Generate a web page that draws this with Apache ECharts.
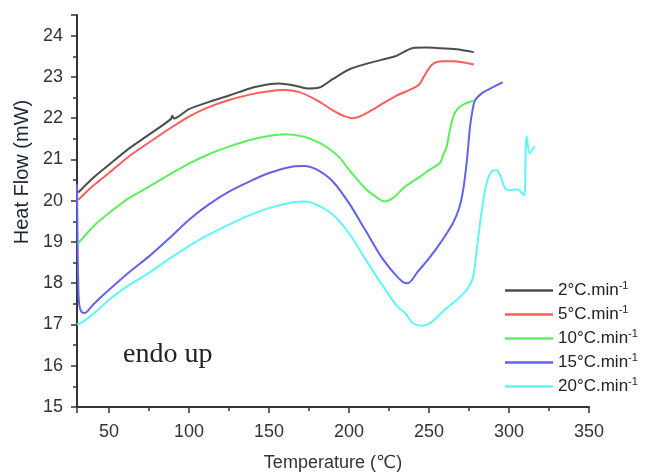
<!DOCTYPE html>
<html>
<head>
<meta charset="utf-8">
<script src="https://cdn.jsdelivr.net/npm/echarts@6/dist/echarts.min.js"></script>
<style>html,body{margin:0;padding:0;background:#fff}#c{width:645px;height:472px}</style>
</head>
<body>
<div id="c"></div>
<script>
// Series names
const seriesNames = ['2°C.min', '5°C.min', '10°C.min', '15°C.min', '20°C.min'];
// Axis ticks
const xTickLabels = [50, 100, 150, 200, 250, 300, 350];
const yTickLabels = [15, 16, 17, 18, 19, 20, 21, 22, 23, 24];

// 2 °C/min
const t2 = [30.8, 40, 50, 62, 75, 88.5, 89.6, 90.6, 100, 113, 126, 138, 150, 156, 165, 174, 182, 190, 200, 211, 223, 229, 236, 240, 248, 255, 267, 278];
const hf2 = [20.2, 20.55, 20.87, 21.25, 21.6, 21.97, 22.06, 21.99, 22.22, 22.4, 22.56, 22.72, 22.82, 22.84, 22.8, 22.72, 22.75, 22.95, 23.18, 23.32, 23.44, 23.5, 23.64, 23.7, 23.71, 23.7, 23.67, 23.6];
// 5 °C/min
const t5 = [30.8, 40, 50, 62, 75, 88, 100, 112, 125, 138, 150, 159, 169, 180, 190, 197, 202.5, 208, 217.5, 230, 240, 244, 246, 249, 252, 255, 258, 265, 272, 278];
const hf5 = [20.02, 20.36, 20.67, 21.06, 21.41, 21.75, 22.04, 22.26, 22.44, 22.57, 22.65, 22.68, 22.63, 22.43, 22.19, 22.05, 22.0, 22.06, 22.27, 22.55, 22.72, 22.82, 22.95, 23.15, 23.3, 23.36, 23.38, 23.38, 23.35, 23.3];
// 10 °C/min
const t10 = [30.8, 40, 50, 62, 75, 88, 100, 112, 125, 138, 150, 160, 172, 180, 186, 194, 200, 210, 218, 222, 228, 235, 244, 250, 257, 259, 261, 263, 264.5, 266, 269, 273, 278];
const hf10 = [18.97, 19.37, 19.7, 20.05, 20.34, 20.64, 20.9, 21.12, 21.31, 21.47, 21.57, 21.61, 21.55, 21.43, 21.3, 21.05, 20.75, 20.3, 20.06, 19.98, 20.08, 20.34, 20.57, 20.74, 20.92, 21.12, 21.3, 21.7, 21.95, 22.12, 22.27, 22.36, 22.42];
// 15 °C/min
const t15 = [30, 30.3, 30.8, 31.5, 33, 35, 40, 50, 62, 75, 88, 100, 112, 125, 138, 150, 165, 172, 180, 190, 200, 210, 220, 228, 234, 237, 243, 250, 257, 265, 269, 271.5, 273.7, 275.6, 277, 278.75, 284, 290, 296];
const hf15 = [20.4, 19.2, 17.9, 17.45, 17.3, 17.28, 17.48, 17.84, 18.25, 18.65, 19.1, 19.54, 19.9, 20.22, 20.47, 20.67, 20.83, 20.84, 20.75, 20.46, 19.94, 19.3, 18.65, 18.25, 18.02, 18.0, 18.28, 18.6, 18.97, 19.46, 19.84, 20.3, 20.98, 21.78, 22.15, 22.43, 22.63, 22.75, 22.87];
// 20 °C/min
const t20 = [30, 33, 37, 43, 50, 62, 75, 88, 100, 112, 125, 138, 150, 165, 172, 180, 190, 200, 210, 220, 230, 235, 240, 246, 252, 260, 268, 274, 277.6, 280, 283, 286, 289, 292.5, 294.4, 297.5, 300.6, 305, 309.6, 310.4, 311, 312.8, 316];
const hf20 = [17.0, 17.05, 17.16, 17.35, 17.6, 17.94, 18.25, 18.6, 18.9, 19.17, 19.42, 19.65, 19.82, 19.96, 19.98, 19.9, 19.66, 19.21, 18.6, 18.0, 17.44, 17.28, 17.03, 16.97, 17.07, 17.36, 17.62, 17.86, 18.15, 18.87, 19.77, 20.42, 20.7, 20.74, 20.62, 20.3, 20.25, 20.28, 20.13, 21.2, 21.56, 21.15, 21.32];

const temps = [t2, t5, t10, t15, t20];
const flows = [hf2, hf5, hf10, hf15, hf20];
const colors = ['#4d4d4d', '#ff5c5c', '#5cef5c', '#6262ee', '#5ef6f6'];

const FONT = "'Liberation Sans', 'DejaVu Sans', Arial, sans-serif";

const chart = echarts.init(document.getElementById('c'), null, {renderer: 'canvas'});
const series = seriesNames.map((name, i) => ({
  name: name,
  type: 'line',
  data: temps[i].map((t, j) => [t, flows[i][j]]),
  symbol: 'none',
  smooth: 0.25,
  lineStyle: {color: colors[i], width: 2},
  itemStyle: {color: colors[i]},
  z: 5 - i
}));

chart.setOption({
  animation: false,
  backgroundColor: '#fff',
  grid: {left: 77, right: 56, top: 15, bottom: 65, containLabel: false, outerBoundsMode: 'none'},
  xAxis: {
    type: 'value', min: 30, max: 350,
    name: 'Temperature (℃)', nameLocation: 'middle', nameGap: 47,
    nameTextStyle: {fontFamily: FONT, fontSize: 18, color: '#333'},
    axisLine: {show: true, lineStyle: {color: '#333', width: 2}},
    axisTick: {show: true, length: 6, lineStyle: {color: '#333', width: 1.5}},
    minorTick: {show: true, splitNumber: 2, length: 4, lineStyle: {color: '#333', width: 1.5}},
    splitLine: {show: false},
    axisLabel: {showMinLabel: false, fontFamily: FONT, fontSize: 18, color: '#333', margin: 16,
      formatter: v => xTickLabels.indexOf(v) >= 0 ? String(v) : ''}
  },
  yAxis: {
    type: 'value', min: 15, max: 24.5, interval: 1,
    name: 'Heat Flow (mW)', nameLocation: 'middle', nameGap: 45,
    nameTextStyle: {fontFamily: FONT, fontSize: 20, color: '#1c2636', padding: [0, 0, 0, 78]},
    axisLine: {show: true, lineStyle: {color: '#333', width: 2}},
    axisTick: {show: true, length: 6, lineStyle: {color: '#333', width: 1.5}},
    minorTick: {show: true, splitNumber: 2, length: 4, lineStyle: {color: '#333', width: 1.5}},
    splitLine: {show: false},
    axisLabel: {showMaxLabel: false, fontFamily: FONT, fontSize: 18, color: '#333', margin: 14,
      formatter: v => yTickLabels.indexOf(v) >= 0 ? String(v) : ''}
  },
  legend: {
    orient: 'vertical', left: 500, top: 275,
    icon: 'rect', itemWidth: 48, itemHeight: 2.5, itemGap: 5,
    data: seriesNames,
    formatter: n => '{a|' + n + '}{s|-1}',
    textStyle: {
      fontFamily: FONT, color: '#222',
      rich: {
        a: {fontFamily: FONT, fontSize: 17, color: '#222', lineHeight: 21},
        s: {fontFamily: FONT, fontSize: 11, color: '#222', verticalAlign: 'top', lineHeight: 21, padding: [0, 0, 8, 0]}
      }
    }
  },
  graphic: [{
    type: 'text', left: 123, top: 341,
    style: {text: 'endo up', fontFamily: "'Liberation Serif', 'DejaVu Serif', serif", fontSize: 28, fill: '#222'}
  }],
  series: series
});
</script>
</body>
</html>
